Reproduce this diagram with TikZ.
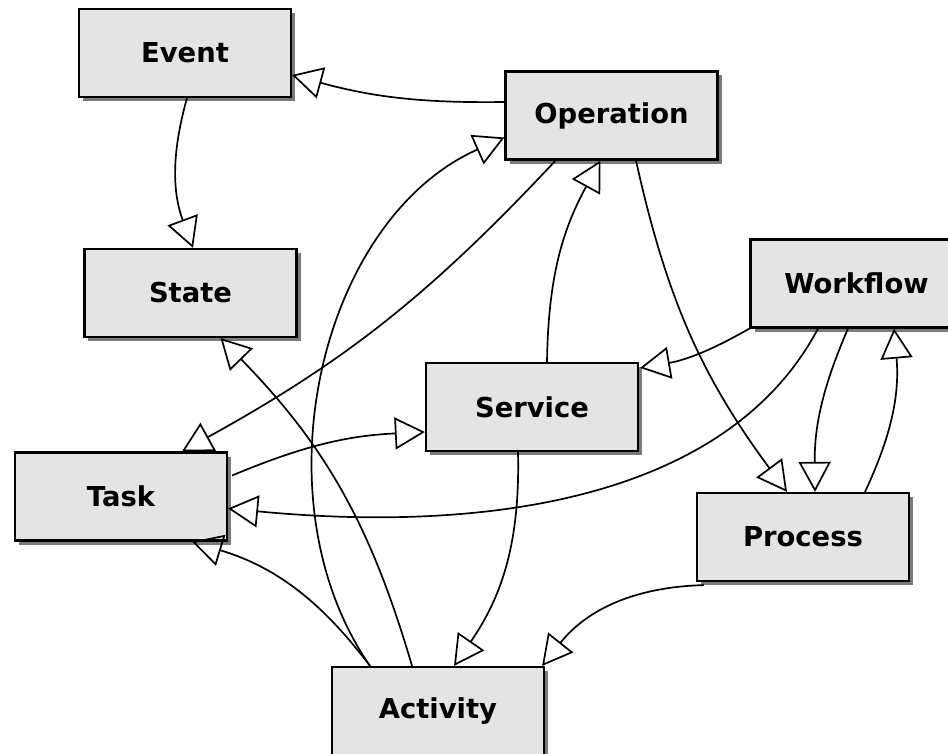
\documentclass[tikz,border=0pt]{standalone}
\usepackage{fontspec}
\setmainfont{DejaVu Sans}
\usepackage{tikz}
\usetikzlibrary{calc,arrows.meta,shadows}
\definecolor{boxfill}{HTML}{E4E4E4}
\definecolor{shade}{HTML}{7A7A7A}
\tikzset{
  box/.style={draw=black, fill=boxfill, line width=2.2pt, minimum width=212bp, minimum height=88bp,
    inner sep=0pt, font=\fontsize{27.5}{32}\selectfont\bfseries,
    drop shadow={shadow xshift=4bp, shadow yshift=-4bp, shadow scale=1, fill=shade, opacity=1}},
  rel/.style={draw=black, line width=1.7pt, -{Triangle[open, length=30bp, width=32bp]}},
}
\begin{document}
\begin{tikzpicture}[x=1bp, y=-1bp]
  \useasboundingbox (0,0) rectangle (948,754);
  \fill[white] (0,0) rectangle (948,754);
  \clip (0,0) rectangle (948,754);

  \node[box] (event)     at (185,53)      {Event};
  \node[box] (operation) at (611.5,115.5) {Operation};
  \node[box] (state)     at (190.5,293)   {State};
  \node[box] (workflow)  at (856.5,283.5) {Workflow};
  \node[box] (service)   at (532,407)     {Service};
  \node[box] (task)      at (121,496.5)   {Task};
  \node[box] (process)   at (803,537)     {Process};
  \node[box] (activity)  at (438,711)     {Activity};

  \draw[rel] ($(operation.west)+(0,-13.5)$) to[bend left=8] ($(event.east)+(0,22)$);
  \draw[rel] ($(event.south)+(2,0)$) to[bend right=18] ($(state.north)+(2.5,0)$);
  \draw[rel] ($(operation.south)+(-56,0)$) to[bend left=9] ($(task.north)+(61,0)$);
  \draw[rel] ($(activity.north)+(-68,0)$) .. controls +(-115,-166) and +(-185,82.5) .. ($(operation.west)+(0,22)$);
  \draw[rel] ($(service.north)+(15,0)$) to[bend left=14] ($(operation.south)+(-11,0)$);
  \draw[rel] ($(operation.south)+(24.5,0)$) to[bend right=12] ($(process.north)+(-16,0)$);

  \draw[rel] (workflow.south west) to[bend left=10] ($(service.north east)+(1,6)$);
  \draw[rel] ($(workflow.south)+(-38.5,0)$) .. controls +(-90,170) and +(260,25) .. ($(task.east)+(0,12)$);
  \draw[rel] ($(workflow.south)+(-8.5,0)$) to[bend right=12] ($(process.north)+(12,0)$);
  \draw[rel] ($(process.north)+(62,0)$) to[bend right=15] ($(workflow.south)+(37.5,0)$);

  \draw[rel] ($(task.east)+(4,-21)$) to[bend left=10] ($(service.west)+(0,25)$);
  \draw[rel] ($(service.south)+(-14,0)$) to[bend left=18] ($(activity.north)+(16,0)$);
  \draw[rel] ($(process.south west)+(8,3)$) to[bend right=25] ($(activity.north east)+(-3,0)$);
  \draw[rel] ($(activity.north)+(-68,0)$) to[bend right=18] ($(task.south)+(71,0)$);
  \draw[rel] ($(activity.north)+(-26,0)$) to[bend right=14] ($(state.south)+(30,0)$);
\end{tikzpicture}
\end{document}
